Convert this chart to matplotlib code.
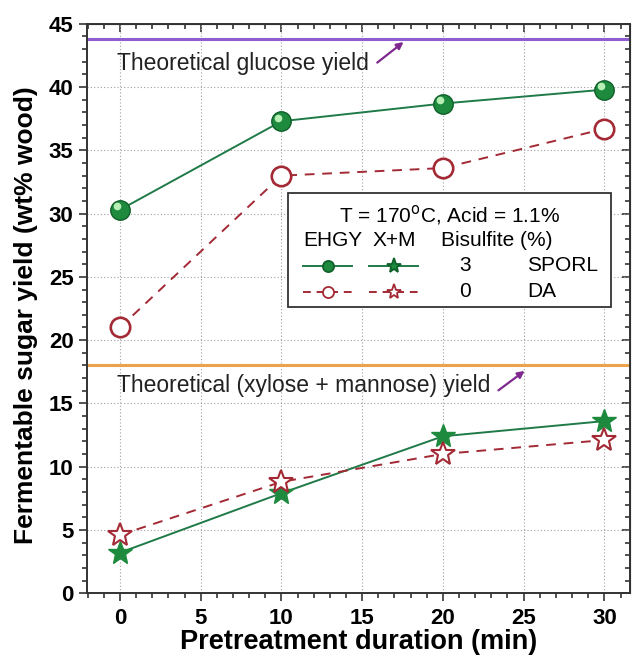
import matplotlib
matplotlib.use("Agg")
import matplotlib.pyplot as plt
import matplotlib.transforms as mtransforms
from matplotlib.patches import Rectangle
from matplotlib.lines import Line2D
from matplotlib.ticker import MultipleLocator

# -------------------- Data --------------------
duration = [0, 10, 20, 30]
ehgy_sporl = [30.3, 37.3, 38.7, 39.8]
ehgy_da = [21.0, 33.0, 33.6, 36.7]
xm_sporl = [3.2, 7.9, 12.4, 13.6]
xm_da = [4.6, 8.8, 11.0, 12.1]

glucose_theory = 43.8
xm_theory = 18.0

# -------------------- Styling --------------------
plt.rcParams["font.family"] = ["Liberation Sans", "DejaVu Sans"]

GREEN = "#1d8a3e"
GREEN_LINE = "#1f7a48"
RED = "#a32a35"
PURPLE = "#8e5ed0"
ORANGE = "#eba24a"
ARROW = "#7e2a8e"

fig = plt.figure(figsize=(6.34, 6.62), dpi=100)
ax = fig.add_axes([0.137, 0.104, 0.857, 0.860])

# theoretical lines
ax.axhline(glucose_theory, color=PURPLE, lw=2.2, zorder=2)
ax.axhline(xm_theory, color=ORANGE, lw=2.2, zorder=2)

# highlight offset for the "ball" markers
hl = ax.transData + mtransforms.ScaledTranslation(-2.4 / 72, 2.4 / 72, fig.dpi_scale_trans)

# EHGY
ax.plot(duration, ehgy_sporl, "-", color=GREEN_LINE, lw=1.4, marker="o", ms=14,
        mfc=GREEN, mec="#10602a", mew=1.0, zorder=4)
ax.plot(duration, ehgy_sporl, "o", ms=5.5, mfc="#b8efb4", mec="none", transform=hl, zorder=5)
ax.plot(duration, ehgy_da, "--", color=RED, lw=1.4, dashes=(5, 4), marker="o", ms=14,
        mfc="white", mec=RED, mew=1.9, zorder=4)

# X+M
ax.plot(duration, xm_sporl, "-", color=GREEN_LINE, lw=1.4, marker="*", ms=18,
        mfc=GREEN, mec=GREEN, zorder=4)
ax.plot(duration, xm_da, "--", color=RED, lw=1.4, dashes=(5, 4), marker="*", ms=18,
        mfc="white", mec=RED, mew=1.5, zorder=4)

# annotations
ax.text(-0.2, 41.9, "Theoretical glucose yield", fontsize=16.5, va="center", ha="left", color="#222222")
ax.annotate("", xy=(17.7, 43.7), xytext=(15.8, 41.8),
            arrowprops=dict(arrowstyle="-|>", color=ARROW, lw=1.6, mutation_scale=10))
ax.text(-0.2, 16.4, "Theoretical (xylose + mannose) yield", fontsize=16.5, va="center", ha="left",
        color="#222222")
ax.annotate("", xy=(25.2, 17.7), xytext=(23.3, 15.9),
            arrowprops=dict(arrowstyle="-|>", color=ARROW, lw=1.6, mutation_scale=10))

# custom legend box (axes fraction)
ta = ax.transAxes
ax.add_patch(Rectangle((0.370, 0.503), 0.594, 0.200, transform=ta, facecolor="white",
                       edgecolor="#333333", lw=1.3, zorder=6))
lfs = 15
ax.text(0.668, 0.664, "T = 170$^{\\mathrm{o}}$C, Acid = 1.1%", transform=ta, ha="center", va="center",
        fontsize=lfs, zorder=7)
ax.text(0.453, 0.620, "EHGY", transform=ta, ha="center", va="center", fontsize=lfs, zorder=7)
ax.text(0.565, 0.620, "X+M", transform=ta, ha="center", va="center", fontsize=lfs, zorder=7)
ax.text(0.755, 0.620, "Bisulfite (%)", transform=ta, ha="center", va="center", fontsize=lfs, zorder=7)

for y, color, ls, mfc, label_num, label_name in [
    (0.575, GREEN_LINE, "-", GREEN, "3", "SPORL"),
    (0.529, RED, "--", "white", "0", "DA"),
]:
    for x0, x1, mk, ms in [(0.398, 0.488, "o", 8), (0.519, 0.610, "*", 11)]:
        line = Line2D([x0, x1], [y, y], transform=ta, color=color, lw=1.4, ls=ls, zorder=7)
        if ls == "--":
            line.set_dashes((4, 3))
        ax.add_line(line)
        ax.add_line(Line2D([(x0 + x1) / 2], [y], transform=ta, marker=mk, ms=ms, mfc=mfc,
                           mec=color if mfc == "white" else "#10602a", mew=1.3, ls="none", zorder=8))
    ax.text(0.696, y, label_num, transform=ta, ha="center", va="center", fontsize=lfs, zorder=7)
    ax.text(0.810, y, label_name, transform=ta, ha="left", va="center", fontsize=lfs, zorder=7)

# axes
ax.set_xlim(-2.05, 31.6)
ax.set_ylim(0, 45)
ax.xaxis.set_major_locator(MultipleLocator(5))
ax.xaxis.set_minor_locator(MultipleLocator(1))
ax.yaxis.set_major_locator(MultipleLocator(5))
ax.yaxis.set_minor_locator(MultipleLocator(1))
ax.grid(True, which="major", ls=(0, (1, 2)), color="#a0a0a0", lw=0.8, zorder=0)
ax.set_axisbelow(True)

ax.tick_params(which="both", direction="out", top=False, right=False, width=1.2, color="#333333")
ax.tick_params(which="major", length=6, labelsize=16)
ax.tick_params(axis="x", which="major", pad=5)
ax.tick_params(which="minor", length=3.5)
for lab in ax.get_xticklabels() + ax.get_yticklabels():
    lab.set_fontweight("bold")
for side in ax.spines.values():
    side.set_linewidth(1.4)
    side.set_color("#333333")

# inward ticks on top and right
sec_x = ax.secondary_xaxis("top")
sec_x.xaxis.set_major_locator(MultipleLocator(5))
sec_x.xaxis.set_minor_locator(MultipleLocator(1))
sec_x.tick_params(which="both", direction="in", labeltop=False, width=1.2, color="#333333")
sec_x.tick_params(which="major", length=6)
sec_x.tick_params(which="minor", length=3.5)
sec_y = ax.secondary_yaxis("right")
sec_y.yaxis.set_major_locator(MultipleLocator(5))
sec_y.yaxis.set_minor_locator(MultipleLocator(1))
sec_y.tick_params(which="both", direction="in", labelright=False, width=1.2, color="#333333")
sec_y.tick_params(which="major", length=6)
sec_y.tick_params(which="minor", length=3.5)

ax.set_xlabel("Pretreatment duration (min)", fontsize=19.5, fontweight="bold", labelpad=0)
ax.set_ylabel("Fermentable sugar yield (wt% wood)", fontsize=19, fontweight="bold", labelpad=8)
ax.yaxis.label.set_y(0.489)

fig.savefig("out.png", dpi=100)
